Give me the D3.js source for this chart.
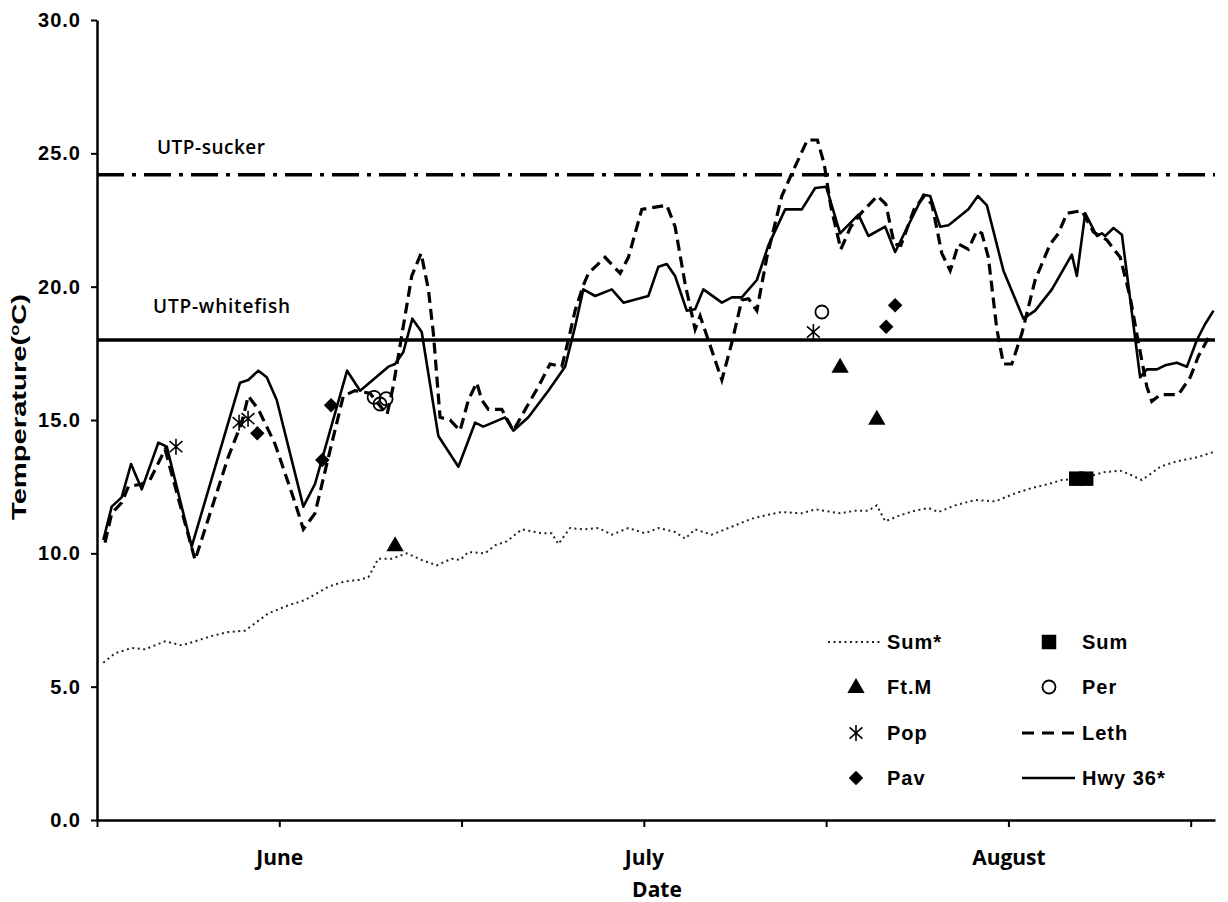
<!DOCTYPE html>
<html>
<head>
<meta charset="utf-8">
<script src="https://cdn.jsdelivr.net/npm/d3@7"></script>
<style>
  html, body { margin: 0; padding: 0; background: #fff; }
  svg { display: block; }
  .num { font-family: "Liberation Sans", Arial, sans-serif; font-weight: bold; }
  .cal { font-family: "Open Sans", "Liberation Sans", sans-serif; font-weight: 600; }
  .calb { font-family: "Open Sans", "Liberation Sans", sans-serif; font-weight: 700; }
</style>
</head>
<body>
<svg id="chart" width="1228" height="902"></svg>
<script>
// Days counted from 17 May; temperatures in degrees C.
const hwyDay = [0.52,1.21,2.03,2.80,3.68,5.05,5.74,7.79,11.77,12.45,13.28,13.97,14.79,16.98,17.94,20.58,21.65,23.98,24.53,25.21,25.95,26.72,28.09,29.74,31.11,31.79,33.58,34.26,35.50,37.14,38.52,39.34,40.02,40.99,42.36,43.32,45.37,46.20,46.89,47.57,48.53,49.22,49.90,51.42,52.24,53.06,54.30,55.25,56.63,58.00,59.10,60.00,61.15,62.66,63.48,64.86,65.68,68.01,68.56,69.38,70.07,71.71,72.49,73.23,74.59,76.24,77.20,78.58,80.22,80.63,81.32,82.28,82.69,82.96,83.65,84.34,85.84,86.39,87.22,87.90,88.86,89.69,90.51,91.19,91.88];
const hwyTemp = [10.5,11.75,12.1,13.35,12.4,14.15,14.0,10.25,16.4,16.5,16.85,16.6,15.75,11.75,12.6,16.85,16.1,17.0,17.1,17.55,18.8,18.3,14.4,13.25,14.9,14.75,15.1,14.6,15.1,16.1,17.0,18.5,19.9,19.65,19.9,19.4,19.65,20.75,20.85,20.4,19.1,19.15,19.9,19.4,19.6,19.6,20.25,21.55,22.9,22.9,23.7,23.75,22.0,22.7,21.9,22.25,21.3,23.45,23.4,22.25,22.3,22.9,23.4,23.05,20.6,18.8,19.1,19.9,21.2,20.4,22.75,21.9,22.0,21.9,22.2,21.95,16.6,16.9,16.9,17.05,17.15,17.0,18.0,18.6,19.1];

const lethDay = [0.66,1.21,2.03,2.58,3.68,4.36,5.60,8.07,10.79,11.91,12.45,13.28,14.65,16.30,16.98,17.94,19.04,20.27,21.23,22.47,23.87,24.39,25.90,26.67,27.27,27.68,28.23,29.05,29.88,30.56,31.25,31.66,32.21,33.31,34.26,35.37,36.32,37.28,38.25,38.79,39.34,40.02,40.44,41.81,43.05,43.73,44.83,46.89,47.57,48.40,49.22,49.63,51.42,52.24,53.06,53.61,54.30,55.12,56.35,57.18,58.46,59.28,59.84,60.39,61.21,62.03,62.86,64.22,64.91,65.60,66.15,67.24,68.07,68.70,69.52,70.21,70.89,71.71,72.40,72.81,73.35,74.05,74.59,75.28,76.11,77.20,78.44,79.12,79.81,81.04,82.00,83.10,84.20,85.02,85.70,86.39,86.80,87.49,88.99,89.96,90.64,91.60];
const lethTemp = [10.4,11.5,11.9,12.5,12.6,12.75,13.9,9.75,13.6,14.9,15.9,15.4,14.1,11.9,10.9,11.5,13.6,15.9,16.1,16.0,15.2,16.3,20.4,21.25,19.9,18.25,15.1,15.0,14.6,15.75,16.4,15.75,15.4,15.4,14.6,15.5,16.25,17.1,17.0,18.0,19.1,20.05,20.5,21.1,20.5,21.1,22.9,23.05,22.25,20.1,18.4,18.9,16.5,17.9,19.5,19.55,19.1,21.1,23.4,24.25,25.5,25.5,24.6,23.0,21.4,22.25,22.75,23.4,23.1,21.6,21.55,22.9,23.4,23.1,21.25,20.6,21.6,21.4,22.1,22.0,21.1,18.4,17.1,17.1,18.25,20.25,21.6,22.0,22.75,22.85,22.05,21.75,21.1,19.6,17.9,16.25,15.7,15.95,15.95,16.6,17.4,18.2];

const sumStarDay = [0.52,1.48,2.86,3.95,5.60,6.97,8.07,9.44,10.81,12.18,14.10,15.74,17.12,19.04,20.41,21.51,22.33,23.15,24.26,25.49,26.72,27.96,29.19,29.88,30.56,31.93,32.76,33.72,34.96,36.60,37.42,37.97,38.93,40.02,41.26,42.36,43.73,45.10,46.20,47.57,48.40,49.22,50.59,51.96,53.88,55.25,56.35,58.00,59.10,61.15,62.39,63.48,64.17,64.86,66.23,67.33,68.42,69.24,70.62,72.26,73.91,75.56,76.93,78.30,79.40,80.90,82.96,84.20,85.02,85.98,86.93,87.49,88.86,90.51,91.88];
const sumStarTemp = [5.9,6.25,6.45,6.4,6.7,6.55,6.7,6.9,7.05,7.1,7.75,8.05,8.25,8.75,8.95,9.0,9.1,9.8,9.8,10.0,9.75,9.55,9.8,9.75,10.05,10.0,10.3,10.45,10.9,10.75,10.75,10.35,10.95,10.9,10.95,10.7,10.95,10.75,10.95,10.8,10.55,10.9,10.7,10.95,11.3,11.45,11.55,11.5,11.65,11.5,11.6,11.6,11.8,11.2,11.45,11.6,11.7,11.55,11.8,12.0,11.95,12.25,12.45,12.6,12.75,12.8,13.05,13.1,12.95,12.75,13.05,13.25,13.45,13.6,13.8];

// Site observations
const sumDay = [80.58, 81.40];
const sumTemp = [12.8, 12.8];
const ftmDay = [24.53, 61.15, 64.17];
const ftmTemp = [10.3, 17.0, 15.05];
const perDay = [22.80, 23.29, 23.79, 59.65];
const perTemp = [15.85, 15.6, 15.8, 19.05];
const popDay = [6.50, 11.69, 12.43, 58.95];
const popTemp = [14.0, 14.9, 15.05, 18.3];
const pavDay = [13.19, 18.54, 19.26, 64.94, 65.68];
const pavTemp = [14.5, 13.5, 15.55, 18.5, 19.3];

// Upper thermal tolerance thresholds
const utpSucker = 24.2;
const utpWhitefish = 18.0;

const yTicks = [0, 5, 10, 15, 20, 25, 30];
const xTicks = [0, 15, 30, 45, 60, 75, 90];
const monthTicks = [15, 45, 75];
const monthLabels = ["June", "July", "August"];

const svg = d3.select("#chart");
const x = d3.scaleLinear().domain([0, 92]).range([97, 1215]);
const y = d3.scaleLinear().domain([0, 30]).range([820, 20]);

const zip = (a, b) => a.map((d, i) => [d, b[i]]);
const line = d3.line().x(d => x(d[0])).y(d => y(d[1]));

// Threshold lines
svg.append("line")
  .attr("x1", x(0)).attr("x2", x(92))
  .attr("y1", y(utpSucker)).attr("y2", y(utpSucker))
  .attr("stroke", "#000").attr("stroke-width", 3.5)
  .attr("stroke-dasharray", "27,8,4,8");
svg.append("line")
  .attr("x1", x(0)).attr("x2", x(92))
  .attr("y1", y(utpWhitefish)).attr("y2", y(utpWhitefish))
  .attr("stroke", "#000").attr("stroke-width", 3.5);

svg.append("text").attr("class", "cal")
  .attr("x", 157).attr("y", y(utpSucker) - 21)
  .attr("font-size", 19).attr("letter-spacing", 0.5).text("UTP-sucker");
svg.append("text").attr("class", "cal")
  .attr("x", 153).attr("y", y(utpWhitefish) - 27)
  .attr("font-size", 19).attr("letter-spacing", 0.8).text("UTP-whitefish");

// Series lines
svg.append("path").datum(zip(sumStarDay, sumStarTemp))
  .attr("d", line).attr("fill", "none")
  .attr("stroke", "#222").attr("stroke-width", 2)
  .attr("stroke-dasharray", "2,3.5");
svg.append("path").datum(zip(lethDay, lethTemp))
  .attr("d", line).attr("fill", "none")
  .attr("stroke", "#000").attr("stroke-width", 3.2)
  .attr("stroke-dasharray", "11,6");
svg.append("path").datum(zip(hwyDay, hwyTemp))
  .attr("d", line).attr("fill", "none")
  .attr("stroke", "#000").attr("stroke-width", 2.6)
  .attr("stroke-linejoin", "round");

// Marker shapes
const asterisk = {
  draw(ctx, size) {
    const r = Math.sqrt(size) / 2;
    ctx.moveTo(0, -r); ctx.lineTo(0, r);
    ctx.moveTo(-r * 0.8, -r * 0.7); ctx.lineTo(r * 0.8, r * 0.7);
    ctx.moveTo(-r * 0.8, r * 0.7); ctx.lineTo(r * 0.8, -r * 0.7);
  }
};
const shapes = {
  tri: p => p.append("path").attr("d", d3.symbol(d3.symbolTriangle, 130)()).attr("fill", "#000").attr("transform", "translate(0,1)"),
  sq: p => p.append("path").attr("d", d3.symbol(d3.symbolSquare, 210)()).attr("fill", "#000"),
  dia: p => p.append("path").attr("d", d3.symbol(d3.symbolSquare, 105)()).attr("fill", "#000").attr("transform", "rotate(45)"),
  circ: p => p.append("circle").attr("r", 6.5).attr("fill", "none").attr("stroke", "#000").attr("stroke-width", 1.8),
  ast: p => p.append("path").attr("d", d3.symbol(asterisk, 256)()).attr("fill", "none").attr("stroke", "#000").attr("stroke-width", 1.6)
};

function markers(days, temps, kind) {
  const g = svg.append("g");
  const pts = g.selectAll("g").data(zip(days, temps)).join("g")
    .attr("transform", d => `translate(${x(d[0])},${y(d[1])})`);
  pts.each(function () { shapes[kind](d3.select(this)); });
}
markers(sumDay, sumTemp, "sq");
markers(ftmDay, ftmTemp, "tri");
markers(perDay, perTemp, "circ");
markers(popDay, popTemp, "ast");
markers(pavDay, pavTemp, "dia");

// Axes
const yAxis = d3.axisLeft(y).tickValues(yTicks).tickFormat(d3.format(".1f"))
  .tickSize(6).tickSizeOuter(0).tickPadding(10);
const gy = svg.append("g").attr("transform", `translate(${x(0)},0)`).call(yAxis);
gy.select(".domain").attr("stroke-width", 2.5);
gy.selectAll(".tick line").attr("stroke-width", 2);
gy.selectAll(".tick text").attr("class", "num").attr("font-size", 20)
  .attr("letter-spacing", 1).attr("fill", "#000").attr("font-family", null);

const labelFor = d => { const i = monthTicks.indexOf(d); return i >= 0 ? monthLabels[i] : ""; };
const xAxis = d3.axisBottom(x).tickValues(xTicks).tickFormat(labelFor)
  .tickSize(7).tickSizeOuter(0).tickPadding(23);
const gx = svg.append("g").attr("transform", `translate(0,${y(0)})`).call(xAxis);
gx.select(".domain").attr("stroke-width", 2.5);
gx.selectAll(".tick line").attr("stroke-width", 2);
gx.selectAll(".tick text").attr("class", "calb").attr("font-size", 21).attr("fill", "#000")
  .attr("font-family", null);

svg.append("text").attr("class", "calb").attr("font-size", 21)
  .attr("x", (x(0) + x(92)) / 2 + 1).attr("y", 897)
  .attr("text-anchor", "middle").text("Date");

const yt = svg.append("text").attr("class", "num").attr("font-size", 21)
  .attr("text-anchor", "middle")
  .attr("textLength", 226).attr("lengthAdjust", "spacingAndGlyphs")
  .attr("transform", "translate(26,407) rotate(-90)");
yt.append("tspan").text("Temperature(");
yt.append("tspan").attr("font-size", 13).attr("dy", -7).text("o");
yt.append("tspan").attr("dy", 7).text("C)");

// Legend
const legend = svg.append("g").attr("class", "num").attr("font-size", 20).attr("letter-spacing", 1);
const rowY = [642, 687, 733, 778];
const col1 = { sym: 856, text: 887 };
const col2 = { sym: 1049, lineA: 1022, lineB: 1075, text: 1082 };

function legText(xp, yp, t) {
  legend.append("text").attr("x", xp).attr("y", yp).attr("dy", "0.36em").text(t);
}
legend.append("line").attr("x1", 828).attr("x2", 880).attr("y1", rowY[0]).attr("y2", rowY[0])
  .attr("stroke", "#222").attr("stroke-width", 2).attr("stroke-dasharray", "2,3.5");
legText(col1.text, rowY[0], "Sum*");
shapes.tri(legend.append("g").attr("transform", `translate(${col1.sym},${rowY[1]})`));
legText(col1.text, rowY[1], "Ft.M");
shapes.ast(legend.append("g").attr("transform", `translate(${col1.sym},${rowY[2]})`));
legText(col1.text, rowY[2], "Pop");
shapes.dia(legend.append("g").attr("transform", `translate(${col1.sym},${rowY[3]})`));
legText(col1.text, rowY[3], "Pav");

shapes.sq(legend.append("g").attr("transform", `translate(${col2.sym},${rowY[0]})`));
legText(col2.text, rowY[0], "Sum");
shapes.circ(legend.append("g").attr("transform", `translate(${col2.sym},${rowY[1]})`));
legText(col2.text, rowY[1], "Per");
legend.append("line").attr("x1", col2.lineA).attr("x2", col2.lineB).attr("y1", rowY[2]).attr("y2", rowY[2])
  .attr("stroke", "#000").attr("stroke-width", 3.2).attr("stroke-dasharray", "12,8");
legText(col2.text, rowY[2], "Leth");
legend.append("line").attr("x1", col2.lineA).attr("x2", col2.lineB).attr("y1", rowY[3]).attr("y2", rowY[3])
  .attr("stroke", "#000").attr("stroke-width", 2.6);
legText(col2.text, rowY[3], "Hwy 36*");
</script>
</body>
</html>
